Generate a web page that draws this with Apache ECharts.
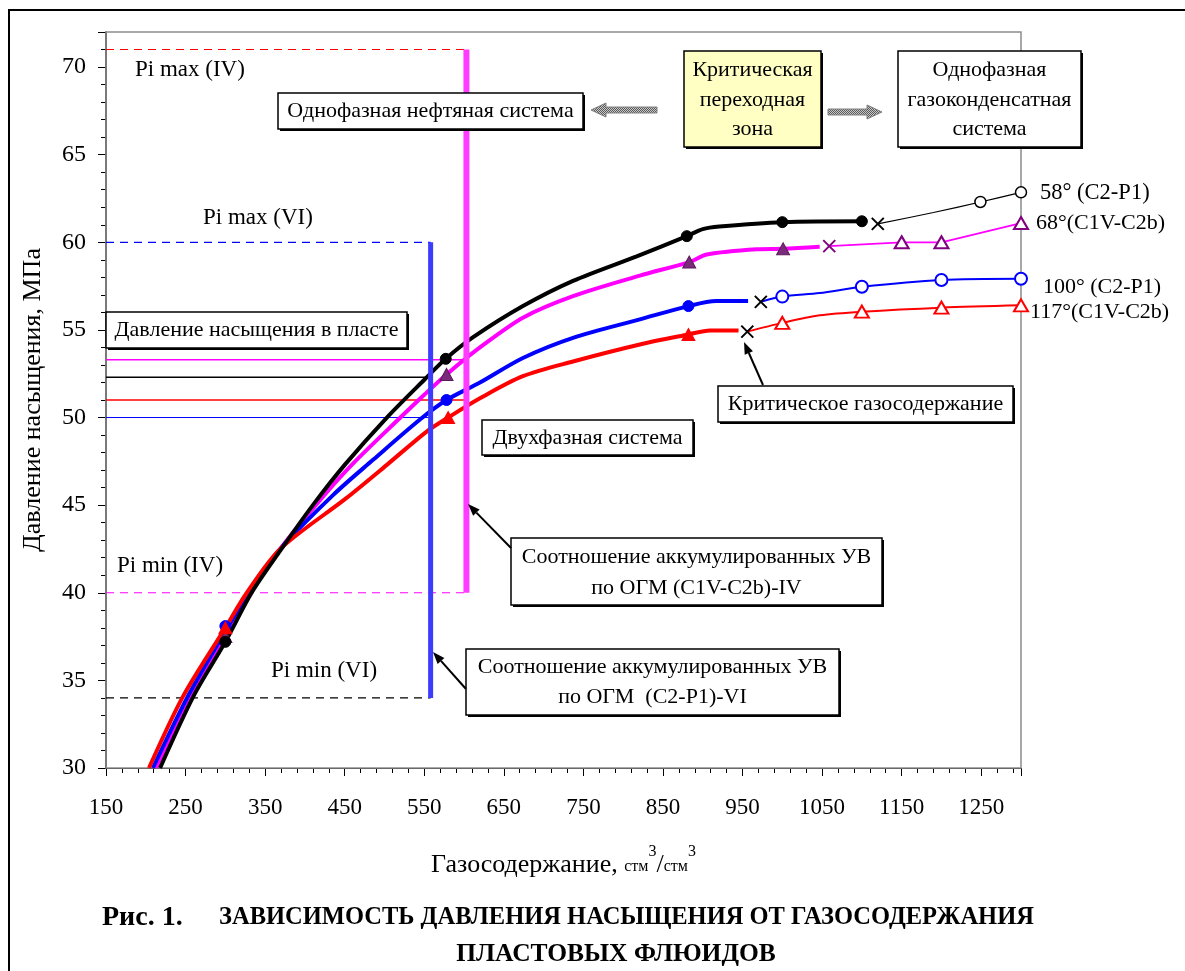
<!DOCTYPE html>
<html>
<head>
<meta charset="utf-8">
<script src="https://cdn.jsdelivr.net/npm/echarts@6/dist/echarts.min.js"></script>
<style>
  html, body { margin: 0; padding: 0; background: #fff; }
  #chart { width: 1185px; height: 971px; }
</style>
</head>
<body>
<div id="chart"></div>
<script>
// ---- Axes ----
const xRange = [150, 1300];
const yRange = [30, 72];

// ---- Saturation pressure curves, two-phase part (gas content, MPa) ----
const blackTwoPhase = [[218,30],[260,34.1],[300,37.2],[333,40],[369,42.4],[410,45.0],[450,47.3],[503,50],[551,52.2],[577,53.35],[611,54.57],[674,56.36],[737,57.8],[817,59.2],[880,60.35],[900,60.75],[921,60.9],[1000,61.15],[1106,61.2]];
const magentaTwoPhase = [[213,30],[256,34.1],[300,37.5],[331,40],[369,42.5],[423,45.5],[461,47.4],[520,50],[550,51.3],[578,52.46],[620,54.0],[674,55.7],[737,56.93],[821,58.1],[883,58.87],[905,59.3],[968,59.6],[1001,59.63],[1047,59.75]];
const blueTwoPhase = [[209,30],[253,34.1],[300,37.8],[330,40],[369,42.5],[436,45.6],[486,47.6],[545,49.9],[578,51.0],[620,52.0],[674,53.4],[737,54.55],[821,55.6],[882,56.36],[917,56.65],[957,56.65]];
const redTwoPhase = [[204,30],[247,34.1],[300,38.0],[327,40],[369,42.5],[452,45.4],[503,47.3],[553,49.2],[580,50.0],[620,51.1],[674,52.36],[737,53.2],[821,54.17],[882,54.74],[909,54.97],[945,54.97]];

// measured points on the two-phase curves
const blackPoints = [[300,37.2],[577,53.35],[880,60.35],[1000,61.15],[1100,61.2]];
const magentaPoints = [[300,37.5],[578,52.46],[883,58.87],[1001,59.63]];
const bluePoints = [[300,38.1],[578,51.0],[882,56.36]];
const redPoints = [[300,38.0],[580,50.0],[882,54.74]];

// critical gas content
const blackCritical = [[1120,61.05]];
const magentaCritical = [[1059,59.78]];
const blueCritical = [[973,56.6]];
const redCritical = [[956,54.9]];

// single-phase (gas-condensate) part
const blackOnePhase = [[1120,61.05],[1190,61.7],[1249,62.3],[1300,62.85]];
const magentaOnePhase = [[1059,59.78],[1150,60.0],[1200,60.0],[1300,61.1]];
const blueOnePhase = [[973,56.6],[1000,56.9],[1047,57.1],[1100,57.46],[1200,57.85],[1300,57.92]];
const redOnePhase = [[956,54.9],[1000,55.4],[1047,55.83],[1100,56.04],[1200,56.27],[1300,56.4]];

const blackOnePoints = [[1249,62.3],[1300,62.85]];
const magentaOnePoints = [[1150,60.0],[1200,60.0],[1300,61.1]];
const blueOnePoints = [[1000,56.9],[1100,57.46],[1200,57.85],[1300,57.92]];
const redOnePoints = [[1000,55.4],[1100,56.04],[1200,56.27],[1300,56.4]];

// reservoir saturation pressure levels and accumulated-HC ratio bounds
const reservoirIV = { x: 603, pMin: 40, pMax: 71 };
const reservoirVI = { x: 558, pMin: 34, pMax: 60 };
const satPressMagenta = 53.3;
const satPressBlack = 52.3;
const satPressRed = 51.0;
const satPressBlue = 50.0;

const seriesNames = ['58° (C2-P1)', '68°(C1V-C2b)', '100° (C2-P1)', '117°(C1V-C2b)'];

const FONT = 'Liberation Serif';
const BLACK = '#000000', MAGENTA = '#ff00ff', BLUE = '#0000ff', RED = '#ff0000', PURPLE = '#7a2c7a';
const CROSS = 'path://M0,0L10,10M10,0L0,10';

function curve(data, color, width, z, smooth) {
  return { type: 'line', data, smooth: smooth, symbol: 'none', silent: true, z,
    lineStyle: { color, width } };
}
function seg(data, color, width, type, z) {
  return { type: 'line', data, symbol: 'none', silent: true, z,
    lineStyle: { color, width, type: type || 'solid' } };
}
function marks(data, symbol, size, fill, stroke, bw, z) {
  return { type: 'scatter', data, symbol, symbolSize: size, silent: true, z: z || 6,
    itemStyle: { color: fill, borderColor: stroke, borderWidth: bw, opacity: 1 } };
}

const series = [
  // thin horizontal lines: saturation pressure in the reservoir
  seg([[xRange[0], satPressMagenta],[reservoirIV.x, satPressMagenta]], MAGENTA, 1.5, 'solid', 1),
  seg([[xRange[0], satPressBlack],[reservoirVI.x, satPressBlack]], BLACK, 1.5, 'solid', 1),
  seg([[xRange[0], satPressRed],[reservoirIV.x, satPressRed]], RED, 1.5, 'solid', 1),
  seg([[xRange[0], satPressBlue],[reservoirVI.x, satPressBlue]], BLUE, 1, 'solid', 1),
  // Pi max / Pi min dashed levels
  seg([[xRange[0], reservoirIV.pMax],[reservoirIV.x, reservoirIV.pMax]], RED, 1.2, [8,6], 1),
  seg([[xRange[0], reservoirVI.pMax],[reservoirVI.x, reservoirVI.pMax]], BLUE, 1.2, [8,6], 1),
  seg([[xRange[0], reservoirIV.pMin],[reservoirIV.x, reservoirIV.pMin]], MAGENTA, 1.2, [8,6], 1),
  seg([[xRange[0], reservoirVI.pMin],[reservoirVI.x, reservoirVI.pMin]], BLACK, 1.2, [8,6], 1),

  // single-phase thin lines
  curve(blackOnePhase, BLACK, 1.2, 3, 0.3),
  curve(magentaOnePhase, MAGENTA, 1.8, 3, 0),
  curve(blueOnePhase, BLUE, 2, 3, 0.3),
  curve(redOnePhase, RED, 2, 3, 0.3),

  // two-phase thick curves
  curve(magentaTwoPhase, MAGENTA, 4, 3, 0.3),
  curve(blueTwoPhase, BLUE, 4, 3, 0.3),
  curve(redTwoPhase, RED, 4, 3, 0.3),
  curve(blackTwoPhase, BLACK, 4, 4, 0.3),

  // vertical bars: accumulated HC ratio ranges
  seg([[reservoirIV.x, reservoirIV.pMin],[reservoirIV.x, reservoirIV.pMax]], '#ff3cff', 6, 'solid', 5),
  seg([[reservoirVI.x, reservoirVI.pMin],[reservoirVI.x, reservoirVI.pMax]], '#3c3cff', 5, 'solid', 5),

  // markers on two-phase curves
  marks(magentaPoints, 'triangle', [13,12], PURPLE, '#5a1a5a', 1),
  marks(bluePoints, 'circle', 11, BLUE, BLUE, 1),
  marks(redPoints, 'triangle', [13,12], RED, RED, 1),
  marks(blackPoints, 'circle', 11, BLACK, BLACK, 1, 7),

  // markers on single-phase lines
  marks(blackOnePoints, 'circle', 11, '#ffffff', BLACK, 1.5),
  marks(magentaOnePoints, 'triangle', [14,12], '#ffffff', '#800080', 2),
  marks(blueOnePoints, 'circle', 12, '#ffffff', BLUE, 2),
  marks(redOnePoints, 'triangle', [14,12], '#ffffff', RED, 2),

  // critical gas content
  marks(blackCritical, CROSS, 12, 'transparent', BLACK, 2),
  marks(magentaCritical, CROSS, 12, 'transparent', '#800080', 2),
  marks(blueCritical, CROSS, 12, 'transparent', BLACK, 2),
  marks(redCritical, CROSS, 12, 'transparent', BLACK, 2)
];

// ---- annotation helpers (pixel layout) ----
function text(x, y, s, size, extra) {
  return { type: 'text', x, y, z: 100, silent: true,
    style: Object.assign({ text: s, fontFamily: FONT, fontSize: size, fill: '#000',
      textAlign: 'left', align: 'left', textVerticalAlign: 'middle', verticalAlign: 'middle' }, extra || {}) };
}
function box(x0, y0, x1, y1, lines, ys, fill) {
  const cx = (x0 + x1) / 2;
  const out = [
    { type: 'rect', z: 99, silent: true, shape: { x: x0 + 2, y: y0 + 2, width: x1 - x0, height: y1 - y0 }, style: { fill: '#000' } },
    { type: 'rect', z: 99, silent: true, shape: { x: x0, y: y0, width: x1 - x0, height: y1 - y0 }, style: { fill: fill || '#fff', stroke: '#000', lineWidth: 1.5 } }
  ];
  lines.forEach((s, i) => out.push(text(cx, ys[i], s, 22, { textAlign: 'center', align: 'center' })));
  return out;
}
function arrow(tail, tip) {
  const dx = tip[0] - tail[0], dy = tip[1] - tail[1];
  const len = Math.hypot(dx, dy), ux = dx / len, uy = dy / len;
  const bx = tip[0] - ux * 12, by = tip[1] - uy * 12;
  const nx = -uy * 4.5, ny = ux * 4.5;
  return [
    { type: 'line', z: 100, silent: true, shape: { x1: tail[0], y1: tail[1], x2: bx, y2: by }, style: { stroke: '#000', lineWidth: 2 } },
    { type: 'polygon', z: 100, silent: true, shape: { points: [tip, [bx + nx, by + ny], [bx - nx, by - ny]] }, style: { fill: '#000' } }
  ];
}

// hatched fill for the grey direction arrows
const hatch = document.createElement('canvas');
hatch.width = 4; hatch.height = 4;
(function () {
  const c = hatch.getContext('2d');
  c.fillStyle = '#c8c8c8'; c.fillRect(0, 0, 4, 4);
  c.fillStyle = '#5a5a5a';
  c.fillRect(0, 0, 1, 1); c.fillRect(2, 0, 1, 1); c.fillRect(1, 1, 1, 1); c.fillRect(3, 1, 1, 1);
  c.fillRect(0, 2, 1, 1); c.fillRect(2, 2, 1, 1); c.fillRect(1, 3, 1, 1); c.fillRect(3, 3, 1, 1);
})();
function grayArrow(pts) {
  return { type: 'polygon', z: 100, silent: true, shape: { points: pts },
    style: { fill: { image: hatch, repeat: 'repeat' }, stroke: '#808080', lineWidth: 1 } };
}

const graphics = [].concat(
  [{ type: 'rect', z: 1, silent: true, shape: { x: 9, y: 10, width: 1200, height: 1000 }, style: { fill: 'none', stroke: '#000', lineWidth: 2 } },
   { type: 'rect', z: 1, silent: true, shape: { x: 106, y: 32, width: 915, height: 736 }, style: { fill: 'none', stroke: '#8c8c8c', lineWidth: 1.5 } }],
  [text(135, 70, 'Pi max (IV)', 23), text(203, 218, 'Pi max (VI)', 23),
   text(117, 566, 'Pi min (IV)', 23), text(271, 671, 'Pi min (VI)', 23)],
  box(278, 93, 583, 129, ['Однофазная нефтяная система'], [111]),
  box(684, 51, 821, 147, ['Критическая', 'переходная', 'зона'], [70, 100, 129], '#ffffc4'),
  box(898, 51, 1081, 147, ['Однофазная', 'газоконденсатная', 'система'], [70, 100, 129]),
  box(106, 312, 407, 348, ['Давление насыщения в пласте'], [330]),
  box(482, 420, 693, 455, ['Двухфазная система'], [438]),
  box(718, 386, 1013, 422, ['Критическое газосодержание'], [404]),
  box(511, 538, 882, 605, ['Соотношение аккумулированных УВ', 'по ОГМ (C1V-C2b)-IV'], [557, 588]),
  box(466, 649, 839, 715, ['Соотношение аккумулированных УВ', 'по ОГМ  (C2-P1)-VI'], [667, 697]),
  [grayArrow([[591,110],[606,103],[606,107],[657,107],[657,113],[606,113],[606,117]]),
   grayArrow([[882,112],[867,105],[867,109],[828,109],[828,115],[867,115],[867,119]])],
  arrow([763, 385], [744, 342]),
  arrow([511, 548], [468, 504]),
  arrow([466, 689], [433, 652]),
  [text(1040, 193, seriesNames[0], 22.5), text(1036, 223, seriesNames[1], 22),
   text(1043, 287, seriesNames[2], 22), text(1030, 312, seriesNames[3], 22)],
  [text(102, 918, 'Рис. 1.', 28, { fontWeight: 'bold' }),
   text(219, 918, 'ЗАВИСИМОСТЬ ДАВЛЕНИЯ НАСЫЩЕНИЯ ОТ ГАЗОСОДЕРЖАНИЯ', 24.5, { fontWeight: 'bold' }),
   text(616, 954, 'ПЛАСТОВЫХ ФЛЮИДОВ', 25.5, { fontWeight: 'bold', textAlign: 'center', align: 'center' })]
);

const chart = echarts.init(document.getElementById('chart'), null, { renderer: 'canvas' });
chart.setOption({
  animation: false,
  backgroundColor: '#ffffff',
  grid: { left: 106, top: 32, width: 915, height: 736, containLabel: false },
  xAxis: {
    type: 'value', min: xRange[0], max: xRange[1], interval: 100,
    axisLine: { lineStyle: { color: '#000', width: 1 } },
    axisTick: { length: 8, lineStyle: { color: '#000', width: 1 } },
    minorTick: { show: true, splitNumber: 5, length: 5, lineStyle: { color: '#000', width: 1 } },
    splitLine: { show: false },
    axisLabel: { fontFamily: FONT, fontSize: 23, color: '#000', margin: 28, showMaxLabel: false,
      formatter: v => String(v) },
    name: '{a|Газосодержание, }{b|стм}{c|3}{a|/}{b|стм}{c|3}',
    nameLocation: 'middle', nameGap: 76,
    nameTextStyle: {
      fontFamily: FONT, color: '#000',
      rich: {
        a: { fontFamily: FONT, fontSize: 26, color: '#000', lineHeight: 34, verticalAlign: 'bottom' },
        b: { fontFamily: FONT, fontSize: 16, color: '#000', verticalAlign: 'bottom', padding: [0, 0, 3, 0] },
        c: { fontFamily: FONT, fontSize: 16, color: '#000', verticalAlign: 'top' }
      }
    }
  },
  yAxis: {
    type: 'value', min: yRange[0], max: yRange[1], interval: 5,
    axisLine: { show: true, lineStyle: { color: '#000', width: 1.5 } },
    axisTick: { show: true, length: 8, lineStyle: { color: '#000', width: 1 } },
    minorTick: { show: true, splitNumber: 5, length: 5, lineStyle: { color: '#000', width: 1 } },
    splitLine: { show: false },
    axisLabel: { fontFamily: FONT, fontSize: 24, color: '#000', margin: 20, showMaxLabel: false },
    name: 'Давление насыщения, МПа',
    nameLocation: 'middle', nameGap: 60, nameRotate: 90,
    nameTextStyle: { fontFamily: FONT, fontSize: 26, color: '#000' }
  },
  series: series,
  graphic: graphics
});
</script>
</body>
</html>
